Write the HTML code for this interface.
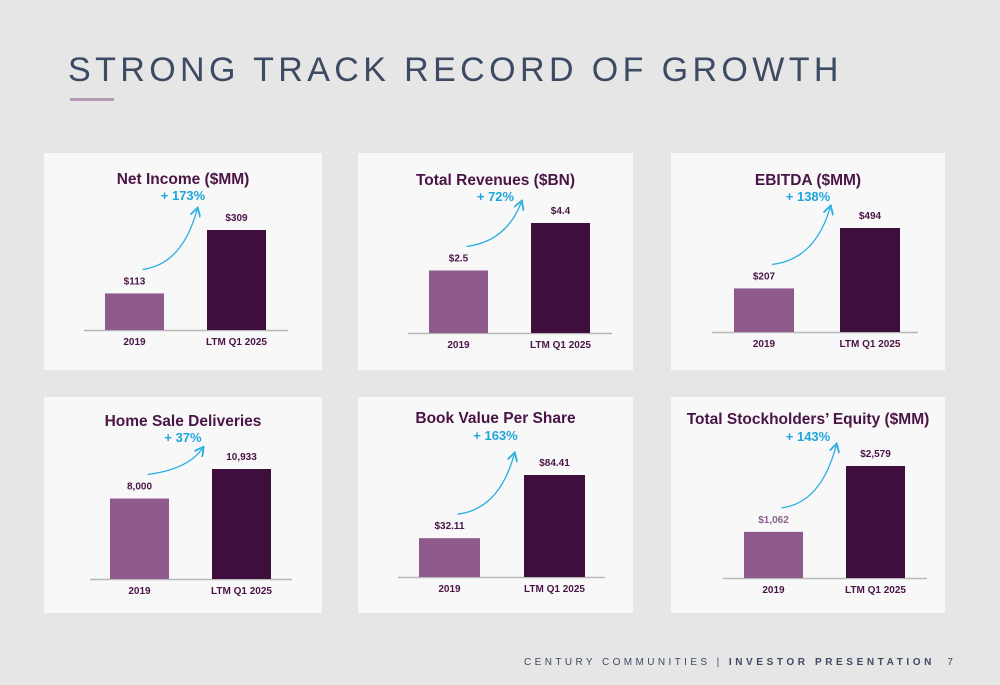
<!DOCTYPE html>
<html><head><meta charset="utf-8"><style>
body{margin:0;width:1000px;height:685px;background:#e6e6e6;font-family:"Liberation Sans",sans-serif;overflow:hidden;position:relative}
h1{position:absolute;left:68px;top:51px;margin:0;font-weight:normal;font-size:34px;letter-spacing:4.4px;color:#3d4a63;white-space:nowrap}
#ul{position:absolute;left:70px;top:98px;width:44px;height:3px;background:#b59ab3}
#foot{position:absolute;left:524px;top:657px;font-size:10px;letter-spacing:3.4px;color:#3d4a63;white-space:nowrap}
#foot b{letter-spacing:3.6px}
svg{position:absolute;left:0;top:0}
</style></head><body>
<h1>STRONG TRACK RECORD OF GROWTH</h1>
<div id="ul"></div>
<div id="foot">CENTURY COMMUNITIES | <b>INVESTOR PRESENTATION</b>&nbsp; 7</div>
<svg id="s" width="1000" height="685"></svg>
<script>
const categories=["2019","LTM Q1 2025"];
const titles=["Net Income ($MM)","Total Revenues ($BN)","EBITDA ($MM)","Home Sale Deliveries","Book Value Per Share","Total Stockholders\u2019 Equity ($MM)"];
const growth=["+ 173%","+ 72%","+ 138%","+ 37%","+ 163%","+ 143%"];
const values2019=[113,2.5,207,8000,32.11,1062];
const valuesLTM=[309,4.4,494,10933,84.41,2579];
const labels2019=["$113","$2.5","$207","8,000","$32.11","$1,062"];
const labelsLTM=["$309","$4.4","$494","10,933","$84.41","$2,579"];
// layout (not data): card, baseline, bar x positions, domain->pixel range
const layout=[
 {cx:44,cy:153,cw:278,ch:217,base:330,ax1:84,ax2:288,bx:[105,207],bw:59,dom:309,rng:100,ty:184,py:200},
 {cx:358,cy:153,cw:275,ch:217,base:333,ax1:408,ax2:612,bx:[429,531],bw:59,dom:4.4,rng:110,ty:185,py:201},
 {cx:671,cy:153,cw:274,ch:217,base:332,ax1:712,ax2:918,bx:[734,840],bw:60,dom:494,rng:104,ty:185,py:201},
 {cx:44,cy:397,cw:278,ch:216,base:579,ax1:90,ax2:292,bx:[110,212],bw:59,dom:10933,rng:110,ty:426,py:442},
 {cx:358,cy:397,cw:275,ch:216,base:577,ax1:398,ax2:605,bx:[419,524],bw:61,dom:84.41,rng:102,ty:423,py:440},
 {cx:671,cy:397,cw:274,ch:216,base:578,ax1:723,ax2:927,bx:[744,846],bw:59,dom:2579,rng:112,ty:424,py:441}
];
const NS="http://www.w3.org/2000/svg",svg=document.getElementById('s');
function mk(t,a,txt){const e=document.createElementNS(NS,t);for(const k in a)e.setAttribute(k,a[k]);if(txt!=null)e.textContent=txt;svg.appendChild(e);return e;}
mk('defs',{}).innerHTML='<marker id="ar" markerWidth="8" markerHeight="8" refX="5" refY="4" orient="auto"><path d="M0,0 L7,4 L0,8" fill="none" stroke="#29aee0" stroke-width="1.4"/></marker>';
layout.forEach((L,i)=>{
 const y=v=>L.base-v/L.dom*L.rng;
 let e=mk('rect',{x:L.cx,y:L.cy,width:L.cw,height:L.ch,fill:'#f8f8f8'});
 
 e=mk('text',{x:L.cx+L.cw/2,y:L.ty,'text-anchor':'middle','font-size':15.5,'font-weight':'bold',fill:'#4a1446'},titles[i]);
 
 e=mk('text',{x:L.cx+L.cw/2,y:L.py,'text-anchor':'middle','font-size':13,'font-weight':'bold',fill:'#1ea6dc'},growth[i]);
 
 e=mk('line',{x1:L.ax1,x2:L.ax2,y1:L.base+0.5,y2:L.base+0.5,stroke:'#b8b8b8','stroke-width':1.5});
 
 const vals=[values2019[i],valuesLTM[i]],labs=[labels2019[i],labelsLTM[i]],cols=['#8e5b8c','#3e0f3c'];
 const tops=[];
 vals.forEach((v,j)=>{
  const t=y(v);tops.push(t);
  let r=mk('rect',{x:L.bx[j],y:t,width:L.bw,height:L.base-t,fill:cols[j]});
  
  r=mk('text',{x:L.bx[j]+L.bw/2,y:t-9,'text-anchor':'middle','font-size':10,'font-weight':'bold',fill:(i==5&&j==0)?'#8c5f8c':'#4a1446'},labs[j]);
  
  r=mk('text',{x:L.bx[j]+L.bw/2,y:L.base+15,'text-anchor':'middle','font-size':10,'font-weight':'bold',fill:'#4a1446'},categories[j]);
  
 });
 const x1=L.bx[0]+L.bw/2+8,y1=tops[0]-24,x2=L.bx[1]-10,y2=tops[1]-20;
 e=mk('path',{d:`M${x1},${y1} Q${x2-15},${y1-5} ${x2},${y2}`,fill:'none',stroke:'#29aee0','stroke-width':1.3,'marker-end':'url(#ar)'});
 
});
</script>
</body></html>
